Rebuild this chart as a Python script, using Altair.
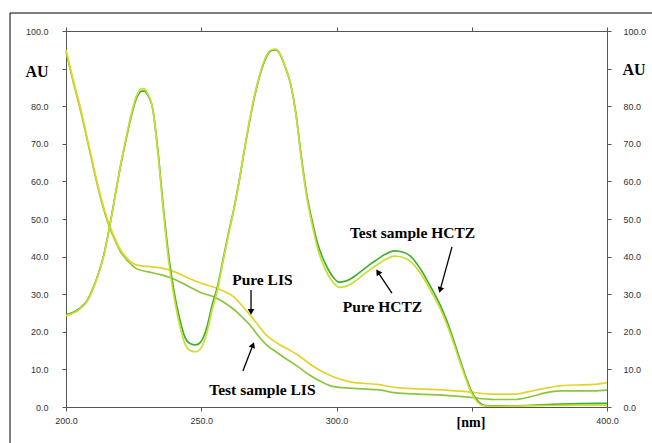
import altair as alt
import pandas as pd

# ---------------- data ----------------
hctz_wl = [200, 205, 208, 210, 212, 214, 216, 218, 220, 222, 224, 226, 228, 229, 230, 232, 234, 236,
           238, 240, 242, 244, 246, 248, 250, 252, 254, 256, 258, 260, 262, 264, 266, 268, 270, 272,
           274, 276, 277.5, 279, 281, 283, 285, 287, 289, 291, 293, 295, 297, 299, 301, 303, 305,
           307.5, 310, 312.5, 315, 318, 321.5, 325, 327.5, 330, 332, 334, 336, 338, 340, 342, 344, 346,
           348, 350, 352, 354, 356, 360, 370, 380, 390, 400]
test_hctz = [24.5, 26.2, 28.5, 31.6, 35.5, 40.5, 47.5, 55.5, 63.5, 70.5, 77.0, 82.0, 84.0, 84.0, 83.2,
             79.5, 68.0, 53.0, 40.0, 30.5, 23.5, 18.5, 16.8, 16.5, 17.5, 21.0, 27.0, 32.0, 39.0, 46.0,
             52.5, 60.0, 68.5, 76.5, 83.5, 89.0, 93.0, 94.8, 95.0, 94.0, 90.5, 86.0, 78.0, 66.5, 56.5,
             49.5, 43.5, 39.5, 36.5, 34.3, 33.2, 33.4, 34.0, 35.2, 36.6, 38.0, 39.2, 40.6, 41.5, 41.1,
             40.0, 37.8, 35.6, 33.0, 30.4, 27.6, 24.3, 20.5, 16.2, 11.8, 7.6, 4.0, 1.8, 0.6, 0.3, 0.3,
             0.4, 0.7, 0.9, 1.0]
pure_hctz = [24.3, 26.0, 28.3, 31.4, 35.3, 40.3, 47.3, 55.5, 63.6, 70.8, 77.5, 82.6, 84.7, 84.6, 83.6,
             79.5, 67.5, 52.0, 38.5, 29.0, 21.8, 16.8, 15.0, 14.7, 15.8, 19.5, 25.8, 31.2, 38.5, 45.6,
             52.3, 60.0, 68.6, 76.8, 83.8, 89.3, 93.3, 95.0, 95.2, 94.1, 90.6, 86.0, 77.8, 66.0, 55.8,
             48.5, 42.2, 38.0, 35.0, 32.9, 31.8, 32.0, 32.6, 33.8, 35.2, 36.6, 37.8, 39.2, 40.1, 39.7,
             38.6, 36.6, 34.5, 32.0, 29.4, 26.7, 23.4, 19.7, 15.5, 11.2, 7.1, 3.6, 1.4, 0.4, 0.2, 0.2,
             0.3, 0.4, 0.5, 0.5]

lis_wl = [200, 203, 205, 208, 210, 213, 216, 218, 220, 222, 224, 226, 230, 235, 240, 245, 250, 255,
          258, 262, 265, 268, 271, 274, 278, 282, 286, 290, 295, 299, 305, 315, 323, 335, 348, 358,
          366, 371, 379, 383, 395, 400]
pure_lis = [95.0, 86.0, 80.5, 71.0, 64.5, 55.5, 48.5, 45.0, 42.0, 40.0, 38.6, 37.8, 37.4, 37.0, 36.0,
            34.4, 32.9, 31.8, 30.9, 29.3, 27.0, 24.5, 21.8, 19.2, 17.0, 15.4, 13.7, 11.5, 9.3, 8.0,
            6.7, 6.0, 5.1, 4.7, 4.1, 3.4, 3.4, 4.1, 5.2, 5.7, 6.0, 6.5]
test_lis = [94.5, 85.5, 80.0, 70.5, 64.0, 55.0, 48.0, 44.5, 41.5, 39.5, 38.0, 36.8, 36.0, 35.2, 34.0,
            32.2, 30.4, 29.2, 28.0, 26.0, 24.0, 21.8, 19.0, 16.6, 14.5, 12.5, 10.6, 8.5, 6.5, 5.4,
            5.0, 4.6, 3.7, 3.3, 2.7, 2.0, 2.0, 2.6, 4.0, 4.3, 4.3, 4.5]

series_names = ["Test sample LIS", "Pure LIS", "Test sample HCTZ", "Pure HCTZ"]
series_colors = ["#8cc63c", "#e4d42a", "#3fae2c", "#c9dd36"]

# annotations (data coordinates)
ann_text = ["Test sample HCTZ", "Pure HCTZ", "Pure LIS", "Test sample LIS"]
ann_x = [328.1, 317.0, 272.6, 272.6]
ann_y = [46.3, 26.6, 33.8, 4.5]
arrow_x = [342.7, 320.5, 268.4, 265.4]
arrow_y = [42.6, 30.3, 31.1, 9.6]
arrow_x2 = [338.3, 315.3, 268.4, 269.1]
arrow_y2 = [31.1, 35.9, 25.3, 16.5]
arrow_angle = [196, 326, 180, 21]

x_ticks = [200, 250, 300, 350, 400]
y_ticks = [0, 10, 20, 30, 40, 50, 60, 70, 80, 90, 100]

# ---------------- tables ----------------
rows = []
for wl, v in zip(lis_wl, test_lis):
    rows.append({"wl": wl, "au": v, "series": "Test sample LIS"})
for wl, v in zip(lis_wl, pure_lis):
    rows.append({"wl": wl, "au": v, "series": "Pure LIS"})
for wl, v in zip(hctz_wl, test_hctz):
    rows.append({"wl": wl, "au": v, "series": "Test sample HCTZ"})
for wl, v in zip(hctz_wl, pure_hctz):
    rows.append({"wl": wl, "au": v, "series": "Pure HCTZ"})
df = pd.DataFrame(rows)

ann = pd.DataFrame({"text": ann_text, "x": ann_x, "y": ann_y})
arr = pd.DataFrame({"x": arrow_x, "y": arrow_y, "x2": arrow_x2, "y2": arrow_y2, "angle": arrow_angle})

xscale = alt.Scale(domain=[200, 400], nice=False, zero=False)
yscale = alt.Scale(domain=[0, 100], nice=False)

axis_common = dict(
    grid=False, domainColor="#555555", tickColor="#555555", tickSize=4,
    labelFont="Liberation Sans", labelFontSize=9, labelColor="#333333", title=None,
    labelFlush=False, labelOverlap=False,
)
label_expr = "datum.value == 90 ? '' : format(datum.value, '.1f')"

lines = alt.Chart(df).mark_line(strokeWidth=1.7, interpolate="monotone").encode(
    x=alt.X("wl:Q", scale=xscale,
            axis=alt.Axis(values=x_ticks, orient="bottom", labelPadding=5,
                          labelExpr="datum.value == 350 ? '' : format(datum.value, '.1f')",
                          **axis_common)),
    y=alt.Y("au:Q", scale=yscale,
            axis=alt.Axis(values=y_ticks, orient="left", labelPadding=14, labelExpr=label_expr,
                          **axis_common)),
    color=alt.Color("series:N", scale=alt.Scale(domain=series_names, range=series_colors), legend=None),
    detail="series:N",
)

texts = alt.Chart(ann).mark_text(
    font="Liberation Serif", fontWeight="bold", fontSize=15.5, color="#000000", baseline="middle"
).encode(
    x=alt.X("x:Q", scale=xscale,
            axis=alt.Axis(values=x_ticks, orient="top", labels=False, **axis_common)),
    y=alt.Y("y:Q", scale=yscale,
            axis=alt.Axis(values=y_ticks, orient="right", labelPadding=12, labelExpr=label_expr,
                          **axis_common)),
    text="text:N",
)

shafts = alt.Chart(arr).mark_rule(color="#000000", strokeWidth=1.3).encode(
    x=alt.X("x:Q", scale=xscale, axis=None),
    y=alt.Y("y:Q", scale=yscale, axis=None),
    x2="x2:Q", y2="y2:Q",
)

heads = alt.Chart(arr).mark_point(shape="triangle-up", filled=True, color="#000000", size=45, opacity=1).encode(
    x=alt.X("x2:Q", scale=xscale, axis=None),
    y=alt.Y("y2:Q", scale=yscale, axis=None),
    angle=alt.Angle("angle:Q", scale=None),
)

au_left = alt.Chart(pd.DataFrame({"t": ["AU"]})).mark_text(
    font="Liberation Serif", fontWeight="bold", fontSize=16, color="#000000", baseline="middle"
).encode(x=alt.value(-29), y=alt.value(41), text="t:N")

au_right = alt.Chart(pd.DataFrame({"t": ["AU"]})).mark_text(
    font="Liberation Serif", fontWeight="bold", fontSize=16, color="#000000", baseline="middle"
).encode(x=alt.value(568), y=alt.value(39), text="t:N")

nm = alt.Chart(pd.DataFrame({"t": ["[nm]"]})).mark_text(
    font="Liberation Serif", fontWeight="bold", fontSize=14, color="#000000", baseline="middle"
).encode(x=alt.value(405), y=alt.value(392), text="t:N")

frame = alt.Chart(pd.DataFrame({"a": [0]})).mark_rect(
    filled=False, stroke="#000000", strokeWidth=1, fill=None
).encode(x=alt.value(-56), y=alt.value(-18), x2=alt.value(600), y2=alt.value(430))

chart = alt.layer(frame, lines, texts, shafts, heads, au_left, au_right, nm).resolve_axis(
    x="independent", y="independent"
).properties(
    width=541, height=376,
    autosize=alt.AutoSizeParams(type="none"),
    padding={"left": 66, "top": 31, "right": 45, "bottom": 36},
).configure_view(stroke=None).configure(background="#ffffff")

chart.save("out.html", embed_options={"renderer": "svg", "actions": False})
